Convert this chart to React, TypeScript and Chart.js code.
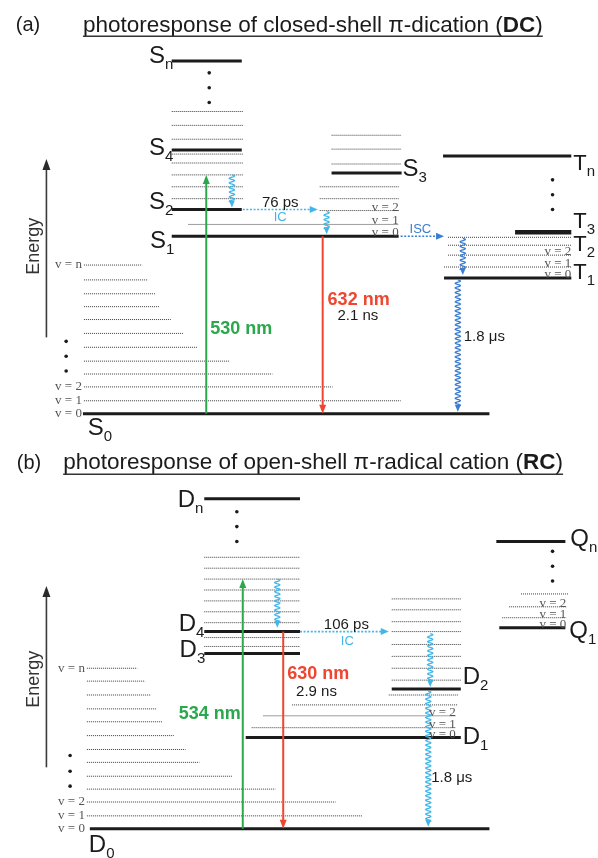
import React, { useEffect, useRef } from "react";
import { Chart, registerables } from "chart.js";

Chart.register(...registerables);

const W = 598;
const H = 858;
const SANS = '"Liberation Sans", Arial, sans-serif';
const SERIF = '"Liberation Serif", "Times New Roman", serif';
const INK = "#1b1b1b";
const GREEN = "#2ba84b";
const RED = "#ee4631";
const CYAN = "#42b6e8";
const BLUE = "#3a7dd2";
const VIB = "#3c3c3c";

// ---------- panel (a): closed-shell dication (energy in arbitrary units, S0 = 0) ----------
// electronic levels: [name, xStart, xEnd, energy]
const aLevels: [string, number, number, number][] = [
  ["S0", 80, 492, 0],
  ["S1", 170, 400, 179],
  ["S2", 170, 241, 206],
  ["S4", 170, 241, 266],
  ["Sn", 170, 241, 356],
  ["S3", 332, 403, 243],
  ["Tn", 445, 575, 260],
  ["T3", 518, 575, 183],
  ["T1", 446, 575, 137],
];
// vibrational sub-levels: [xStart, xEnd, energy]
const aVib: [number, number, number][] = [
  [81, 402, 13], [81, 333, 27], [81, 272, 40], [81, 229, 53], [81, 196, 67],
  [81, 182, 81], [81, 169, 95], [81, 158, 108], [81, 153, 121], [81, 146, 135], [81, 140, 150],
  [170, 242, 305], [170, 242, 291], [170, 242, 277], [170, 242, 262], [170, 242, 253],
  [170, 242, 241], [170, 242, 229], [170, 242, 217],
  [187, 400, 191],
  [332, 403, 281], [332, 403, 267], [332, 403, 252],
  [320, 400, 229], [320, 400, 217], [320, 400, 205],
  [450, 575, 178], [450, 575, 170], [450, 575, 160], [446, 575, 148],
];
// ellipsis dots: [x, energy]
const aDots: [number, number][] = [
  [208, 344], [208, 329], [208, 314],
  [63, 73], [63, 58], [63, 43],
  [556, 236], [556, 221], [556, 206],
];
// radiative transitions: [x, fromEnergy, toEnergy, color]
const aArrows: [number, number, number, string][] = [
  [205, 0, 241, GREEN],
  [323, 179, 0, RED],
];
// non-radiative (wavy) relaxations: [x, fromEnergy, toEnergy, color]
const aWavy: [number, number, number, string][] = [
  [231, 241, 208, CYAN],
  [327, 204, 181, CYAN],
  [465, 177, 140, BLUE],
  [460, 135, 2, BLUE],
];
// crossings (dotted horizontal): [energy, xStart, xEnd, color]
const aCross: [number, number, number, string][] = [
  [206, 242, 318, CYAN],
  [179, 402, 446, BLUE],
];
// state labels: [letter, subscript, xLeft, baselineEnergy]
const aStates: [string, string, number, number][] = [
  ["S", "n", 147, 354],
  ["S", "4", 147, 261],
  ["S", "2", 147, 207],
  ["S", "1", 148, 167],
  ["S", "0", 85, -22],
  ["S", "3", 404, 240],
  ["T", "n", 577, 246],
  ["T", "3", 577, 187],
  ["T", "2", 577, 164],
  ["T", "1", 577, 136],
];
// vibrational quantum number labels: [text, xRight, energy, anchor]
const aVibLabels: [string, number, number, string][] = [
  ["v = n", 79, 150, "middle"], ["v = 2", 79, 27, "middle"], ["v = 1", 79, 13, "middle"], ["v = 0", 79, 0, "middle"],
  ["v = 2", 400, 205, "alphabetic"], ["v = 1", 400, 191, "alphabetic"], ["v = 0", 400, 179, "alphabetic"],
  ["v = 2", 575, 160, "alphabetic"], ["v = 1", 575, 148, "alphabetic"], ["v = 0", 575, 137, "alphabetic"],
];
// annotations: [text, x, energy, color, kind]
const aNotes: [string, number, number, string, string][] = [
  ["76 ps", 280, 213, INK, "time-c"],
  ["IC", 280, 198, CYAN, "tag-c"],
  ["ISC", 422, 186, BLUE, "tag-c"],
  ["530 nm", 209, 85, GREEN, "nm"],
  ["632 nm", 328, 115, RED, "nm"],
  ["2.1 ns", 338, 99, INK, "time"],
  ["1.8 μs", 466, 78, INK, "time"],
];

// ---------- panel (b): open-shell radical cation (D0 = 0) ----------
const bLevels: [string, number, number, number][] = [
  ["D0", 87, 492, 0],
  ["D1", 245, 463, 92],
  ["D2", 393, 463, 141],
  ["D3", 203, 300, 177],
  ["D4", 203, 300, 199],
  ["Dn", 203, 300, 333],
  ["Q1", 502, 569, 203],
  ["Qn", 499, 569, 290],
];
const bVib: [number, number, number][] = [
  [84, 363, 13], [84, 336, 27], [84, 275, 40], [84, 232, 53], [84, 198, 67], [84, 184, 80],
  [84, 172, 94], [84, 160, 108], [84, 155, 121], [84, 149, 135], [84, 143, 149], [84, 135, 162],
  [203, 300, 274], [203, 300, 263], [203, 300, 252], [203, 300, 241], [203, 300, 230],
  [203, 300, 219], [203, 300, 208], [203, 300, 193], [203, 300, 184],
  [393, 463, 232], [393, 463, 221], [393, 463, 209], [393, 463, 199], [393, 463, 186],
  [393, 463, 174], [393, 463, 162], [393, 463, 150], [390, 460, 135],
  [292, 460, 125], [263, 458, 114], [251, 458, 102],
  [524, 572, 237], [512, 570, 224], [505, 570, 213],
];
const bDots: [number, number][] = [
  [236, 320], [236, 305], [236, 290],
  [67, 74], [67, 58], [67, 43],
  [556, 280], [556, 265], [556, 250],
];
const bArrows: [number, number, number, string][] = [
  [242, 0, 252, GREEN],
  [283, 199, 0, RED],
];
const bWavy: [number, number, number, string][] = [
  [277, 252, 203, CYAN],
  [432, 197, 143, CYAN],
  [430, 139, 2, CYAN],
];
const bCross: [number, number, number, string][] = [
  [199, 300, 390, CYAN],
];
const bStates: [string, string, number, number][] = [
  ["D", "n", 176, 325],
  ["D", "4", 177, 200],
  ["D", "3", 178, 173],
  ["D", "0", 86, -23],
  ["D", "2", 465, 146],
  ["D", "1", 465, 86],
  ["Q", "n", 574, 285],
  ["Q", "1", 573, 193],
];
const bVibLabels: [string, number, number, string][] = [
  ["v = n", 82, 162, "middle"], ["v = 2", 82, 27, "middle"], ["v = 1", 82, 13, "middle"], ["v = 0", 82, 0, "middle"],
  ["v = 2", 458, 114, "alphabetic"], ["v = 1", 458, 102, "alphabetic"], ["v = 0", 458, 92, "alphabetic"],
  ["v = 2", 570, 224, "alphabetic"], ["v = 1", 570, 213, "alphabetic"], ["v = 0", 570, 203, "alphabetic"],
];
const bNotes: [string, number, number, string, string][] = [
  ["106 ps", 347, 206, INK, "time-c"],
  ["IC", 348, 189, CYAN, "tag-c"],
  ["630 nm", 287, 156, RED, "nm"],
  ["2.9 ns", 296, 138, INK, "time"],
  ["534 nm", 177, 116, GREEN, "nm"],
  ["1.8 μs", 433, 51, INK, "time"],
];

// titles: [panel, tag, text, bold part, energy, xTag, xTitle, width]
const titles: [string, string, string, string, number, number, number, number][] = [
  ["a", "(a)", "photoresponse of closed-shell π-dication (", "DC", 392, 12, 80, 460],
  ["b", "(b)", "photoresponse of open-shell π-radical cation (", "RC", 369, 13, 60, 500],
];
// energy axes: [panel, x, energyBottom, energyTop, labelEnergy]
const energyAxes: [string, number, number, number, number][] = [
  ["a", 43, 77, 257, 169],
  ["b", 43, 62, 245, 151],
];

const panels: Record<string, any> = {
  a: { levels: aLevels, vib: aVib, dots: aDots, arrows: aArrows, wavy: aWavy, cross: aCross, states: aStates, vibLabels: aVibLabels, notes: aNotes, axis: "ya" },
  b: { levels: bLevels, vib: bVib, dots: bDots, arrows: bArrows, wavy: bWavy, cross: bCross, states: bStates, vibLabels: bVibLabels, notes: bNotes, axis: "yb" },
};

function arrowHead(ctx: CanvasRenderingContext2D, x: number, y: number, dx: number, dy: number, len: number, half: number, color: string) {
  const n = Math.hypot(dx, dy) || 1;
  const ux = dx / n, uy = dy / n;
  ctx.beginPath();
  ctx.moveTo(x, y);
  ctx.lineTo(x - ux * len - uy * half, y - uy * len + ux * half);
  ctx.lineTo(x - ux * len + uy * half, y - uy * len - ux * half);
  ctx.closePath();
  ctx.fillStyle = color;
  ctx.fill();
}

const diagramPlugin = {
  id: "diagram",
  afterDatasetsDraw(chart: any) {
    const ctx: CanvasRenderingContext2D = chart.ctx;
    const sx = chart.scales.x;
    const X = (v: number) => sx.getPixelForValue(v);
    ctx.save();
    for (const key of Object.keys(panels)) {
      const p = panels[key];
      const sy = chart.scales[p.axis];
      const Y = (e: number) => sy.getPixelForValue(e);

      // straight arrows
      for (const [x, e1, e2, color] of p.arrows) {
        const px = X(x), y1 = Y(e1), y2 = Y(e2);
        const dir = Math.sign(y2 - y1);
        ctx.strokeStyle = color;
        ctx.lineWidth = 2;
        ctx.beginPath();
        ctx.moveTo(px, y1);
        ctx.lineTo(px, y2 - dir * 7);
        ctx.stroke();
        arrowHead(ctx, px, y2, 0, dir, 9, 3.5, color);
      }
      // dotted crossings
      for (const [e, x1, x2, color] of p.cross) {
        const py = Y(e), a = X(x1), b = X(x2);
        ctx.strokeStyle = color;
        ctx.lineWidth = 1.6;
        ctx.setLineDash([2, 1.6]);
        ctx.beginPath();
        ctx.moveTo(a, py);
        ctx.lineTo(b - 7, py);
        ctx.stroke();
        ctx.setLineDash([]);
        arrowHead(ctx, b, py, 1, 0, 8, 3.5, color);
      }
      // wavy arrows
      for (const [x, e1, e2, color] of p.wavy) {
        const px = X(x), y1 = Y(e1), y2 = Y(e2);
        const dir = Math.sign(y2 - y1);
        const L = Math.abs(y2 - y1) - 5;
        ctx.strokeStyle = color;
        ctx.lineWidth = 1.3;
        ctx.beginPath();
        for (let t = 0; t <= L; t += 0.5) {
          const xx = px + 2.6 * Math.sin((2 * Math.PI * t) / 4.6);
          const yy = y1 + dir * t;
          if (t === 0) ctx.moveTo(xx, yy);
          else ctx.lineTo(xx, yy);
        }
        ctx.stroke();
        arrowHead(ctx, px, y2, 0, dir, 7, 3, color);
      }
      // state labels
      for (const [main, sub, x, e] of p.states) {
        const size = main === "T" ? 22 : 24;
        ctx.fillStyle = INK;
        ctx.textAlign = "left";
        ctx.textBaseline = "alphabetic";
        ctx.font = `${size}px ${SANS}`;
        const px = X(x), py = Y(e);
        ctx.fillText(main, px, py);
        const w = ctx.measureText(main).width;
        ctx.font = `15px ${SANS}`;
        ctx.fillText(sub, px + w, py + 6);
      }
      // vibrational labels
      for (const [text, x, e, base] of p.vibLabels) {
        ctx.fillStyle = "#555";
        ctx.font = `13px ${SERIF}`;
        ctx.textAlign = "right";
        ctx.textBaseline = base as CanvasTextBaseline;
        ctx.fillText(text, X(x), Y(e));
      }
      // notes
      for (const [text, x, e, color, kind] of p.notes) {
        ctx.fillStyle = color;
        ctx.textBaseline = "middle";
        if (kind === "nm") ctx.font = `bold 18px ${SANS}`;
        else if (kind.startsWith("time")) ctx.font = `15px ${SANS}`;
        else ctx.font = `13px ${SANS}`;
        ctx.textAlign = kind.endsWith("-c") ? "center" : "left";
        ctx.fillText(text, X(x), Y(e));
      }
    }
    // energy axes
    for (const [key, x, e1, e2, le] of energyAxes) {
      const sy = chart.scales[panels[key].axis];
      const px = X(x), y1 = sy.getPixelForValue(e1), y2 = sy.getPixelForValue(e2);
      ctx.strokeStyle = "#3a3a3a";
      ctx.lineWidth = 1.6;
      ctx.beginPath();
      ctx.moveTo(px, y1);
      ctx.lineTo(px, y2 + 8);
      ctx.stroke();
      arrowHead(ctx, px, y2, 0, -1, 11, 4, "#2a2a2a");
      ctx.save();
      ctx.translate(X(30), sy.getPixelForValue(le));
      ctx.rotate(-Math.PI / 2);
      ctx.fillStyle = "#333";
      ctx.font = `18px ${SANS}`;
      ctx.textAlign = "center";
      ctx.textBaseline = "middle";
      ctx.fillText("Energy", 0, 0);
      ctx.restore();
    }
    // titles
    for (const [key, tag, before, bold, e, xTag, xTitle, target] of titles) {
      const sy = chart.scales[panels[key].axis];
      const py = sy.getPixelForValue(e);
      ctx.fillStyle = INK;
      ctx.textAlign = "left";
      ctx.textBaseline = "middle";
      ctx.font = `20px ${SANS}`;
      ctx.fillText(tag, X(xTag), py);
      let size = 20;
      ctx.font = `${size}px ${SANS}`;
      const w1 = ctx.measureText(before).width + ctx.measureText(")").width;
      ctx.font = `bold ${size}px ${SANS}`;
      const w2 = ctx.measureText(bold).width;
      size = (20 * target) / (w1 + w2);
      let cx = X(xTitle);
      const start = cx;
      ctx.font = `${size}px ${SANS}`;
      ctx.fillText(before, cx, py);
      cx += ctx.measureText(before).width;
      ctx.font = `bold ${size}px ${SANS}`;
      ctx.fillText(bold, cx, py);
      cx += ctx.measureText(bold).width;
      ctx.font = `${size}px ${SANS}`;
      ctx.fillText(")", cx, py);
      cx += ctx.measureText(")").width;
      ctx.strokeStyle = "#333";
      ctx.lineWidth = 1.4;
      ctx.beginPath();
      ctx.moveTo(start, py + 11);
      ctx.lineTo(cx, py + 11);
      ctx.stroke();
    }
    ctx.restore();
  },
};

function buildDatasets() {
  const ds: any[] = [];
  for (const key of Object.keys(panels)) {
    const p = panels[key];
    for (const [x1, x2, e] of p.vib) {
      ds.push({
        data: [{ x: x1, y: e }, { x: x2, y: e }],
        yAxisID: p.axis,
        showLine: true,
        borderColor: VIB,
        borderWidth: 1,
        borderDash: [1, 1],
        pointRadius: 0,
      });
    }
    for (const [name, x1, x2, e] of p.levels) {
      ds.push({
        label: name,
        data: [{ x: x1, y: e }, { x: x2, y: e }],
        yAxisID: p.axis,
        showLine: true,
        borderColor: INK,
        borderWidth: name === "T3" ? 4.5 : 3,
        pointRadius: 0,
      });
    }
    ds.push({
      data: p.dots.map(([x, e]: [number, number]) => ({ x, y: e })),
      yAxisID: p.axis,
      showLine: false,
      pointRadius: 1.8,
      pointBackgroundColor: INK,
      pointBorderWidth: 0,
    });
  }
  return ds;
}

export default function App() {
  const ref = useRef<HTMLCanvasElement | null>(null);
  useEffect(() => {
    if (!ref.current) return;
    const chart = new Chart(ref.current, {
      type: "scatter",
      data: { datasets: buildDatasets() },
      options: {
        animation: false,
        responsive: false,
        devicePixelRatio: 1,
        layout: { padding: 0 },
        plugins: { legend: { display: false }, tooltip: { enabled: false }, title: { display: false } },
        scales: {
          x: { type: "linear", min: 0, max: W, display: false },
          // half-unit offset puts 1px dotted levels on pixel centres
          ya: { type: "linear", position: "left", min: -444.5, max: 413.5, display: false },
          yb: { type: "linear", position: "left", min: -25.5, max: 832.5, display: false },
        },
        elements: { line: { tension: 0 } },
      },
      plugins: [diagramPlugin],
    });
    return () => chart.destroy();
  }, []);
  return (
    <div style={{ position: "absolute", left: 0, top: 0, width: W, height: H, background: "#fff" }}>
      <canvas ref={ref} width={W} height={H} style={{ display: "block", width: W, height: H }} />
    </div>
  );
}
